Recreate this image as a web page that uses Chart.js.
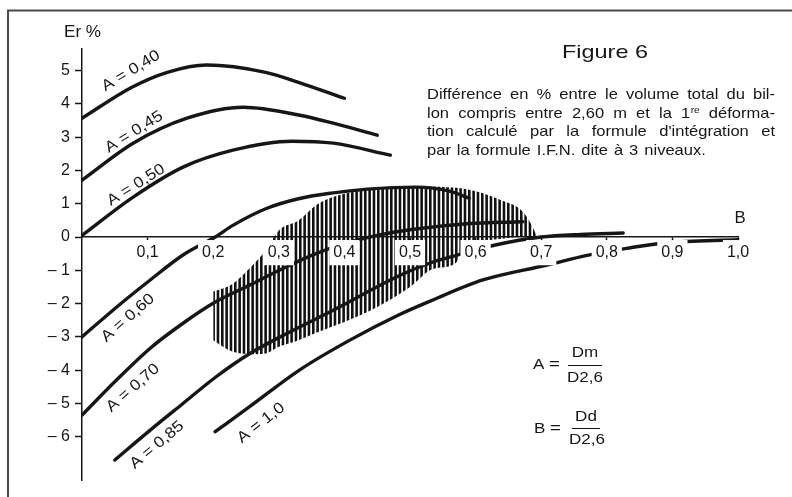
<!DOCTYPE html>
<html>
<head>
<meta charset="utf-8">
<script src="https://cdn.jsdelivr.net/npm/chart.js@4.4.1/dist/chart.umd.min.js"></script>
<style>
  html, body { margin: 0; padding: 0; background: #fff; }
  canvas { display: block; }
</style>
</head>
<body>
<canvas id="fig6" width="792" height="497"></canvas>
<script>
// axis ticks
const xTicks = [0.1, 0.2, 0.3, 0.4, 0.5, 0.6, 0.7, 0.8, 0.9, 1.0];
const xTickLabels = ['0,1', '0,2', '0,3', '0,4', '0,5', '0,6', '0,7', '0,8', '0,9', '1,0'];
const yTicks = [5, 4, 3, 2, 1, 0, -1, -2, -3, -4, -5, -6];
const yTickLabels = ['5', '4', '3', '2', '1', '0', '– 1', '– 2', '– 3', '– 4', '– 5', '– 6'];

// curves, B on x, Er % on y
const a40X = [0, 0.076, 0.13, 0.19, 0.28, 0.33, 0.40];
const a40Y = [3.57, 4.50, 4.95, 5.17, 4.95, 4.65, 4.17];

const a45X = [0, 0.078, 0.16, 0.246, 0.332, 0.383, 0.45];
const a45Y = [1.71, 2.82, 3.57, 3.90, 3.66, 3.42, 3.06];

const a50X = [0, 0.078, 0.154, 0.23, 0.32, 0.383, 0.47];
const a50Y = [0.05, 1.2, 2.1, 2.61, 2.88, 2.82, 2.46];

const a60X = [0, 0.053, 0.104, 0.154, 0.203, 0.23, 0.28, 0.33, 0.38, 0.435, 0.51, 0.56, 0.59];
const a60Y = [-3.0, -2.1, -1.29, -0.54, 0, 0.35, 0.85, 1.15, 1.32, 1.44, 1.5, 1.38, 1.17];

const a70X = [0, 0.053, 0.104, 0.154, 0.2, 0.256, 0.307, 0.35, 0.40, 0.45, 0.50, 0.587, 0.672];
const a70Y = [-5.35, -4.29, -3.34, -2.59, -1.99, -1.44, -0.94, -0.55, -0.2, 0.05, 0.22, 0.4, 0.46];

const a85X = [0.05, 0.104, 0.154, 0.205, 0.256, 0.307, 0.383, 0.485, 0.535, 0.571, 0.63, 0.70, 0.76, 0.825];
const a85Y = [-6.70, -5.80, -5.0, -4.19, -3.5, -2.95, -2.2, -1.15, -0.75, -0.55, -0.24, 0.0, 0.08, 0.12];

const a100X = [0.203, 0.256, 0.332, 0.409, 0.485, 0.535, 0.611, 0.709, 0.77, 0.83, 0.89, 1.0];
const a100Y = [-5.85, -5.09, -3.99, -3.09, -2.32, -1.89, -1.29, -0.84, -0.55, -0.34, -0.17, -0.08];

// hatched zone
const zoneX = [0.2, 0.23, 0.26, 0.28, 0.3, 0.33, 0.36, 0.4, 0.45, 0.5, 0.535, 0.57, 0.585, 0.61, 0.64, 0.665, 0.68, 0.693];
const zoneTop = [-1.64, -1.4, -0.85, -0.4, 0.2, 0.5, 1.0, 1.3, 1.45, 1.53, 1.52, 1.48, 1.44, 1.32, 1.1, 0.88, 0.55, 0.05];
const zoneBottom = [-3.1, -3.45, -3.52, -3.5, -3.3, -3.1, -2.85, -2.55, -2.1, -1.5, -0.96, -0.78, -0.15, -0.1, -0.05, 0, 0, 0];

const curveLabels = ['A = 0,40', 'A = 0,45', 'A = 0,50', 'A = 0,60', 'A = 0,70', 'A = 0,85', 'A = 1,0'];

const FAM = '"Liberation Sans", Arial, Helvetica, sans-serif';
const INK = '#161616';

const ctx = document.getElementById('fig6').getContext('2d');

function hatch() {
  const c = document.createElement('canvas');
  c.width = 13; c.height = 8;
  const g = c.getContext('2d');
  g.fillStyle = '#111';
  [0, 4.33, 8.67].forEach(x => g.fillRect(x, 0, 2.6, 8));
  return ctx.createPattern(c, 'repeat');
}

const pts = (xs, ys) => xs.map((x, i) => ({ x: x, y: ys[i] }));

const curve = (label, xs, ys) => ({
  label: label,
  data: pts(xs, ys),
  borderColor: INK,
  borderWidth: 3.4,
  borderCapStyle: 'round',
  pointRadius: 0,
  fill: false,
  cubicInterpolationMode: 'monotone'
});

// text helpers
function stretched(c, text, x, y, size, sx, align) {
  c.font = size + 'px ' + FAM;
  c.save();
  c.translate(x, y);
  c.scale(sx, 1);
  c.textAlign = align || 'left';
  c.fillText(text, 0, 0);
  c.restore();
}

function fitText(c, text, x, y, size, width, align) {
  c.font = size + 'px ' + FAM;
  const sx = width / c.measureText(text).width;
  stretched(c, text, x, y, size, sx, align);
}

const paraLines = [
  'Différence en % entre le volume total du bil-',
  'lon compris entre 2,60 m et la 1re déforma-',
  'tion calculé par la formule d\'intégration et',
  'par la formule I.F.N. dite à 3 niveaux.'
];

function word(c, w, x, y, size, sx, draw) {
  c.font = size + 'px ' + FAM;
  if (w === '1re') {
    const w1 = c.measureText('1').width * sx;
    if (draw) stretched(c, '1', x, y, size, sx);
    c.font = (size * 0.62) + 'px ' + FAM;
    const w2 = c.measureText('re').width * sx;
    if (draw) stretched(c, 're', x + w1 + 0.5, y - 5, size * 0.62, sx);
    return w1 + w2 + 0.5;
  }
  const ww = c.measureText(w).width * sx;
  if (draw) stretched(c, w, x, y, size, sx);
  return ww;
}

function paragraph(c) {
  const left = 427, right = 775, size = 14.5, sx = 1.14;
  const base = [99, 117.7, 136.4, 155];
  c.textBaseline = 'alphabetic';
  paraLines.forEach((line, li) => {
    const words = line.split(' ');
    const widths = words.map(w => word(c, w, 0, 0, size, sx, false));
    const sum = widths.reduce((a, b) => a + b, 0);
    c.font = size + 'px ' + FAM;
    let gap = c.measureText(' ').width * sx * 1.3;
    if (li < paraLines.length - 1) gap = (right - left - sum) / (words.length - 1);
    let x = left;
    words.forEach((w, i) => {
      word(c, w, x, base[li], size, sx, true);
      x += widths[i] + gap;
    });
  });
}

const decor = {
  id: 'decor',
  beforeDraw(chart) {
    const c = chart.ctx;
    c.save();
    c.fillStyle = '#fff';
    c.fillRect(0, 0, chart.width, chart.height);
    c.restore();
  },
  afterDraw(chart) {
    const c = chart.ctx;
    c.save();
    // frame of the figure
    c.strokeStyle = '#4a4a4a';
    c.lineWidth = 2;
    c.beginPath();
    c.moveTo(8, 497);
    c.lineTo(8, 10.5);
    c.lineTo(792, 10.5);
    c.stroke();

    c.fillStyle = INK;
    c.textBaseline = 'middle';
    fitText(c, 'Er %', 64, 33, 16, 37);
    stretched(c, 'B', 740, 219, 16, 1.05, 'center');
    fitText(c, 'Figure 6', 562, 53, 19, 86);

    // curve labels
    const spots = [[131, 71, -31], [134, 132, -32], [136, 185, -32], [128, 318, -41],
                   [133, 388, -41], [157, 445, -40], [261, 423, -38]];
    curveLabels.forEach((t, i) => {
      const [x, y, a] = spots[i];
      c.save();
      c.translate(x, y);
      c.rotate(a * Math.PI / 180);
      stretched(c, t, 0, 0, 15.5, 1.12, 'center');
      c.restore();
    });

    paragraph(c);

    // A = Dm / D2,6  and  B = Dd / D2,6
    c.textBaseline = 'middle';
    stretched(c, 'A', 533, 365, 15.5, 1.1);
    stretched(c, '=', 549, 365, 15.5, 1.2);
    stretched(c, 'Dm', 585, 353, 15.5, 1.1, 'center');
    stretched(c, 'D2,6', 585, 378, 15.5, 1.1, 'center');
    stretched(c, 'B', 534, 429, 15.5, 1.1);
    stretched(c, '=', 550, 429, 15.5, 1.2);
    stretched(c, 'Dd', 586, 417, 15.5, 1.1, 'center');
    stretched(c, 'D2,6', 587, 440, 15.5, 1.1, 'center');
    c.strokeStyle = INK;
    c.lineWidth = 1.2;
    c.beginPath();
    c.moveTo(568, 365.5); c.lineTo(602, 365.5);
    c.moveTo(572, 428.5); c.lineTo(600, 428.5);
    c.stroke();
    c.restore();
  }
};

new Chart(ctx, {
  type: 'line',
  data: {
    datasets: [
      curve('A = 0,40', a40X, a40Y),
      curve('A = 0,45', a45X, a45Y),
      curve('A = 0,50', a50X, a50Y),
      curve('A = 0,60', a60X, a60Y),
      curve('A = 0,70', a70X, a70Y),
      curve('A = 0,85', a85X, a85Y),
      curve('A = 1,0', a100X, a100Y),
      {
        label: 'zone haut',
        data: pts(zoneX, zoneTop),
        borderColor: 'transparent',
        pointRadius: 0,
        fill: false,
        cubicInterpolationMode: 'monotone'
      },
      {
        label: 'zone bas',
        data: pts(zoneX, zoneBottom),
        borderColor: 'transparent',
        backgroundColor: hatch(),
        pointRadius: 0,
        fill: '-1',
        cubicInterpolationMode: 'monotone'
      }
    ]
  },
  options: {
    responsive: false,
    animation: false,
    events: [],
    layout: { padding: { left: 42, right: 54, top: 49, bottom: 17 } },
    plugins: {
      legend: { display: false },
      tooltip: { enabled: false }
    },
    scales: {
      x: {
        type: 'linear',
        min: 0,
        max: 1,
        position: { y: 0 },
        afterBuildTicks: s => { s.ticks = xTicks.map(v => ({ value: v })); },
        afterFit: s => { s.height = 0; },
        grid: { drawOnChartArea: false, tickLength: 4, tickColor: INK, tickWidth: 1.5 },
        border: { color: INK, width: 1.5 },
        ticks: {
          z: 1,
          padding: 2,
          color: INK,
          font: { family: FAM, size: 16 },
          maxRotation: 0,
          autoSkip: false,
          showLabelBackdrop: true,
          backdropColor: '#fff',
          backdropPadding: { x: 4, y: 3 },
          callback: (v, i) => xTickLabels[i]
        }
      },
      y: {
        type: 'linear',
        min: -7.3,
        max: 5.65,
        position: 'left',
        afterBuildTicks: s => { s.ticks = yTicks.map(v => ({ value: v })); },
        afterFit: s => { s.width = 40; },
        grid: { drawOnChartArea: false, tickLength: 7, tickColor: INK, tickWidth: 1.5 },
        border: { color: INK, width: 1.5 },
        ticks: {
          padding: 5,
          color: INK,
          font: { family: FAM, size: 16 },
          autoSkip: false,
          callback: (v, i) => yTickLabels[i]
        }
      }
    }
  },
  plugins: [decor]
});
</script>
</body>
</html>
